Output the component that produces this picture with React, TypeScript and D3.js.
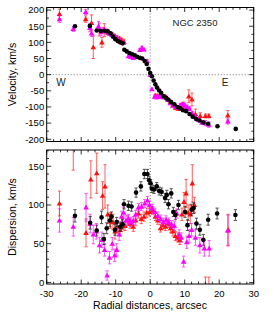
import React from "react";
import * as d3 from "d3";

// ---------- DATA ----------
// velocity panel: [radius arcsec, velocity km/s, error]
const velBlack: [number, number][] = [
  [-21.8, 150], [-17.5, 151], [-15.5, 137], [-14.3, 135], [-13.2, 136], [-12.3, 134],
  [-11.5, 128], [-10.8, 118], [-10.1, 110], [-9.4, 104], [-8.7, 100], [-8.0, 97],
  [-7.5, 77], [-6.8, 72], [-6.0, 67], [-5.2, 63], [-4.5, 60], [-3.8, 55], [-3.0, 52],
  [-2.3, 50], [-1.6, 42], [-1.0, 33], [-0.5, 18], [0, 5], [0.5, -5], [1.0, -18],
  [1.5, -30], [2.0, -40], [2.6, -49], [3.2, -57], [3.9, -67], [4.6, -72], [5.3, -78],
  [6.1, -85], [7.0, -92], [7.9, -100], [8.7, -104], [9.5, -110], [10.4, -113],
  [11.4, -122], [12.3, -130], [13.3, -137], [14.3, -142], [15.4, -148], [16.8, -152],
  [19.5, -160], [24.8, -168],
];
const velRed: [number, number, number][] = [
  [-26.3, 188, 15], [-18.7, 172, 10], [-17.0, 160, 25], [-16.5, 85, 35], [-14.8, 140, 20],
  [-14.0, 100, 15], [-13.3, 138, 20], [-12.5, 133, 8], [-11.8, 128, 6], [-11.0, 124, 6],
  [-10.3, 120, 5], [-9.6, 115, 5], [-8.9, 112, 5], [-8.3, 107, 6], [-7.6, 102, 8],
  [1.5, -65, 5], [2.2, -66, 5], [2.9, -64, 5], [3.6, -66, 5], [4.3, -68, 5], [5.0, -75, 5],
  [5.8, -85, 6], [6.6, -95, 6], [7.4, -102, 6], [8.2, -105, 6], [9.0, -98, 8], [9.7, -93, 8],
  [11.2, -67, 20], [12.1, -77, 20], [13.1, -122, 15], [14.5, -128, 10], [16.0, -128, 6],
  [17.0, -128, 6], [22.5, -126, 15],
];
const velMagenta: [number, number, number][] = [
  [-26.3, 172, 10], [-22.3, 142, 8], [-18.7, 194, 8], [-17.5, 145, 12], [-17.0, 128, 10],
  [-15.0, 150, 15], [-14.2, 132, 12], [-13.5, 140, 6], [-12.8, 135, 5], [-12.2, 130, 5],
  [-11.6, 126, 5], [-11.0, 123, 5], [-10.4, 118, 5], [-9.8, 113, 5], [-9.2, 108, 5],
  [-8.5, 103, 5], [-7.8, 99, 4], [-6.3, 57, 4], [-5.6, 55, 4], [-4.9, 52, 4], [-3.0, 77, 4],
  [-2.4, 83, 5], [-1.8, 78, 4], [-0.9, 42, 4], [0.0, 0, 4], [0.5, -45, 4], [1.3, -68, 5],
  [1.9, -70, 5], [2.5, -68, 5], [3.1, -67, 5], [3.8, -70, 5], [4.5, -70, 5], [5.2, -78, 5],
  [5.9, -88, 5], [6.6, -95, 5], [7.3, -98, 6], [8.0, -102, 6], [8.7, -95, 6], [9.3, -92, 6],
  [10.0, -95, 6], [10.7, -100, 6], [11.4, -105, 6], [12.2, -120, 6], [13.0, -130, 6],
  [14.0, -140, 6], [15.0, -148, 6], [16.0, -150, 8], [17.0, -155, 8], [22.5, -145, 8],
];

// dispersion panel: [radius arcsec, sigma km/s, error]
const dispBlack: [number, number, number][] = [
  [-21.8, 86, 8], [-17.4, 77, 8], [-15.5, 67, 7], [-14.1, 84, 8], [-13.4, 56, 7],
  [-12.6, 70, 7], [-11.7, 80, 8], [-11.2, 85, 6], [-10.2, 68, 7], [-9.7, 78, 6],
  [-8.7, 72, 6], [-8.0, 75, 6], [-7.6, 101, 6], [-6.3, 99, 6], [-5.4, 98, 6],
  [-4.1, 116, 6], [-2.7, 124, 6], [-1.7, 140, 6], [-0.8, 140, 6], [-0.3, 132, 5],
  [0.1, 128, 5], [0.5, 121, 5], [1.1, 120, 5], [1.9, 124, 5], [2.6, 118, 5], [3.3, 117, 5],
  [4.3, 109, 6], [4.8, 113, 6], [5.3, 101, 6], [6.1, 115, 6], [6.7, 91, 6], [7.3, 87, 6],
  [8.2, 100, 6], [10.1, 91, 7], [10.8, 74, 7], [12.0, 94, 7], [12.6, 96, 7], [13.4, 76, 7],
  [14.4, 68, 7], [15.4, 55, 7], [16.8, 81, 7], [19.4, 89, 7], [24.7, 87, 7],
];
const dispRed: [number, number, number][] = [
  [-26.3, 102, 16], [-22.3, 190, 45], [-18.6, 64, 18], [-17.2, 133, 24], [-15.5, 141, 26],
  [-13.8, 112, 18], [-13.1, 124, 28], [-12.3, 88, 12], [-11.5, 80, 10], [-10.8, 78, 10],
  [-10.2, 66, 10], [-9.5, 72, 8], [-8.7, 68, 8], [-8.0, 76, 7], [-7.3, 73, 6], [-6.5, 80, 6],
  [-5.8, 76, 6], [-4.9, 72, 6], [-4.2, 80, 6], [-3.4, 89, 6], [-2.6, 82, 6], [-1.8, 85, 6],
  [-1.0, 90, 6], [-0.2, 91, 5], [0.7, 93, 5], [1.5, 85, 5], [2.2, 80, 5], [3.0, 70, 5],
  [3.7, 74, 5], [4.4, 72, 5], [5.2, 76, 5], [5.9, 70, 6], [6.6, 66, 6], [7.3, 60, 6],
  [8.0, 58, 6], [8.6, 55, 6], [9.2, 88, 8], [9.8, 104, 12], [10.4, 115, 18], [11.0, 90, 10],
  [11.6, 88, 12], [12.2, 128, 24], [12.8, 100, 10], [16.0, -10, 17], [17.0, -10, 17],
  [22.6, 68, 20],
];
const dispMagenta: [number, number, number][] = [
  [-26.3, 80, 15], [-22.3, 72, 12], [-18.6, 97, 18], [-17.4, 76, 12], [-16.5, 62, 12],
  [-15.6, 66, 10], [-14.7, 48, 10], [-14.0, 55, 10], [-13.2, 42, 8], [-12.5, 9, 6],
  [-11.8, 32, 8], [-11.0, 50, 8], [-10.3, 35, 8], [-9.7, 42, 8], [-9.0, 62, 8], [-8.3, 85, 7],
  [-7.7, 90, 7], [-7.0, 80, 6], [-6.3, 82, 6], [-5.6, 78, 6], [-4.9, 80, 5], [-4.2, 88, 5],
  [-3.4, 97, 5], [-2.5, 98, 5], [-1.6, 102, 5], [-0.8, 106, 5], [-0.2, 100, 5], [0.6, 96, 5],
  [1.4, 91, 5], [2.2, 86, 5], [3.0, 82, 5], [3.8, 78, 5], [4.6, 81, 5], [5.4, 78, 5],
  [6.2, 75, 5], [7.0, 73, 6], [7.7, 89, 6], [8.4, 62, 6], [9.0, 58, 6], [9.7, 27, 7],
  [10.6, 52, 8], [11.3, 60, 8], [12.0, 68, 8], [13.1, 58, 10], [14.4, 48, 10],
  [15.7, 44, 10], [17.1, 44, 10], [22.5, 67, 20],
];

const xTicks = [-30, -20, -10, 0, 10, 20, 30];
const velTicks = [-200, -150, -100, -50, 0, 50, 100, 150, 200];
const dispTicks = [0, 50, 100, 150];

// ---------- LAYOUT ----------
const W = 274, H = 317;
const L = 46.7, R = 253.7;
const FONT = "'Liberation Sans', Arial, Helvetica, sans-serif";
const RED = "#ff1010";
const MAG = "#ff00ff";

const x = d3.scaleLinear().domain([-30, 30]).range([L, R]);
const yV = d3.scaleLinear().domain([-207, 208]).range([141.5, 7.5]);
const yD = d3.scaleLinear().domain([-2, 171]).range([284, 150]);

function tri(cx: number, cy: number, s = 2.8) {
  return `M${cx},${cy - s}L${cx + s},${cy + s * 0.75}L${cx - s},${cy + s * 0.75}Z`;
}

function ErrBars({ data, y, color, op = 0.75 }: { data: [number, number, number][]; y: any; color: string; op?: number }) {
  return (
    <g stroke={color} strokeWidth={0.9} opacity={op}>
      {data.map((d, i) => {
        const cx = x(d[0]);
        const y1 = y(d[1] - d[2]);
        const y2 = y(d[1] + d[2]);
        return (
          <g key={i}>
            <line x1={cx} x2={cx} y1={y1} y2={y2} />
            <line x1={cx - 1.6} x2={cx + 1.6} y1={y1} y2={y1} />
            <line x1={cx - 1.6} x2={cx + 1.6} y1={y2} y2={y2} />
          </g>
        );
      })}
    </g>
  );
}

function Tris({ data, y, color }: { data: [number, number, number][]; y: any; color: string }) {
  return (
    <g fill={color}>
      {data.map((d, i) => (
        <path key={i} d={tri(x(d[0]), y(d[1]))} />
      ))}
    </g>
  );
}

function Frame({ y, top, bottom, yMajor, yMinorStep, showX }: any) {
  const xMinor = d3.range(-30, 30.001, 2);
  const yDom = y.domain();
  const yMinor = d3.range(Math.ceil(yDom[0] / yMinorStep) * yMinorStep, yDom[1], yMinorStep);
  const maj = 4.5, min = 2.3;
  return (
    <g stroke="#000" strokeWidth={0.8}>
      {xMinor.map((v) => {
        const isMaj = v % 10 === 0;
        const len = isMaj ? maj : min;
        return (
          <g key={"x" + v}>
            <line x1={x(v)} x2={x(v)} y1={bottom} y2={bottom - len} />
            <line x1={x(v)} x2={x(v)} y1={top} y2={top + len} />
          </g>
        );
      })}
      {yMinor.map((v: number) => {
        const isMaj = yMajor.includes(v);
        const len = isMaj ? maj : min;
        return (
          <g key={"y" + v}>
            <line x1={L} x2={L + len} y1={y(v)} y2={y(v)} />
            <line x1={R} x2={R - len} y1={y(v)} y2={y(v)} />
          </g>
        );
      })}
      <rect x={L} y={top} width={R - L} height={bottom - top} fill="none" strokeWidth={1} />
      <g stroke="none" fill="#000" fontFamily={FONT} fontSize={9.5} textAnchor="end">
        {yMajor.map((v: number) => (
          <text key={v} x={L - 2.5} y={y(v) + 3.4}>{v}</text>
        ))}
      </g>
      {showX && (
        <g stroke="none" fill="#000" fontFamily={FONT} fontSize={9.5} textAnchor="middle">
          {xTicks.map((v) => (
            <text key={v} x={x(v)} y={bottom + 12.5}>{v}</text>
          ))}
        </g>
      )}
    </g>
  );
}

export default function App() {
  const vTop = 7.5, vBot = 141.5, dTop = 150, dBot = 284;
  return (
    <svg width={W} height={H} style={{ position: "absolute", left: 0, top: 0, background: "#fff" }}>
      <defs>
        <clipPath id="cv"><rect x={L} y={vTop} width={R - L} height={vBot - vTop} /></clipPath>
        <clipPath id="cd"><rect x={L} y={dTop} width={R - L} height={dBot - dTop} /></clipPath>
      </defs>

      {/* velocity panel */}
      <g clipPath="url(#cv)">
        <line x1={L} x2={R} y1={yV(0)} y2={yV(0)} stroke="#777" strokeWidth={1} strokeDasharray="1,2" />
        <line x1={x(0)} x2={x(0)} y1={vTop} y2={vBot} stroke="#777" strokeWidth={1} strokeDasharray="1,2" />
        <ErrBars data={velRed} y={yV} color={RED} />
        <Tris data={velRed} y={yV} color={RED} />
        <ErrBars data={velMagenta} y={yV} color={MAG} />
        <Tris data={velMagenta} y={yV} color={MAG} />
        <g fill="#000">
          {velBlack.map((d, i) => (
            <circle key={i} cx={x(d[0])} cy={yV(d[1])} r={2.3} />
          ))}
        </g>
      </g>
      <Frame y={yV} top={vTop} bottom={vBot} yMajor={velTicks} yMinorStep={25} showX={false} />
      <text x={195} y={26} fontFamily={FONT} fontSize={9.5} textAnchor="middle" fill="#222">NGC 2350</text>
      <text x={61} y={85.5} fontFamily={FONT} fontSize={10} textAnchor="middle" fill="#222">W</text>
      <text x={225} y={85.5} fontFamily={FONT} fontSize={10} textAnchor="middle" fill="#222">E</text>
      <text transform={`translate(16,${(vTop + vBot) / 2}) rotate(-90)`} fontFamily={FONT} fontSize={10.5} textAnchor="middle" fill="#000">Velocity, km/s</text>

      {/* dispersion panel */}
      <g clipPath="url(#cd)">
        <line x1={x(0)} x2={x(0)} y1={dTop} y2={dBot} stroke="#777" strokeWidth={1} strokeDasharray="1,2" />
        <ErrBars data={dispRed} y={yD} color={RED} />
        <Tris data={dispRed} y={yD} color={RED} />
        <ErrBars data={dispMagenta} y={yD} color={MAG} />
        <Tris data={dispMagenta} y={yD} color={MAG} />
        <ErrBars data={dispBlack} y={yD} color="#222" op={0.85} />
        <g fill="#000">
          {dispBlack.map((d, i) => (
            <circle key={i} cx={x(d[0])} cy={yD(d[1])} r={2.3} />
          ))}
        </g>
      </g>
      <Frame y={yD} top={dTop} bottom={dBot} yMajor={dispTicks} yMinorStep={10} showX={true} />
      <text transform={`translate(16,${(dTop + dBot) / 2}) rotate(-90)`} fontFamily={FONT} fontSize={10.5} textAnchor="middle" fill="#000">Dispersion, km/s</text>
      <text x={150} y={309} fontFamily={FONT} fontSize={10.5} textAnchor="middle" fill="#000">Radial distances, arcsec</text>
    </svg>
  );
}
